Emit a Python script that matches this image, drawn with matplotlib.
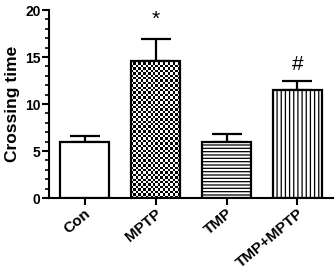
import numpy as np
import matplotlib
matplotlib.use("Agg")
import matplotlib.pyplot as plt

# Data
groups = ["Con", "MPTP", "TMP", "TMP+MPTP"]
means = [5.95, 14.6, 6.0, 11.45]
errors = [0.65, 2.3, 0.85, 1.05]
marks = ["", "*", "", "#"]
mark_y = [None, 19.0, None, 14.2]

plt.rcParams['font.family'] = ['Liberation Sans', 'DejaVu Sans']
plt.rcParams['font.weight'] = 'bold'
plt.rcParams['hatch.linewidth'] = 0.9

fig = plt.figure(figsize=(3.36, 2.71), dpi=100)
ax = fig.add_axes([0.146, 0.269, 0.845, 0.694])

x = np.arange(len(groups))
width = 0.68
hatches = [None, None, '-----', '||||']
faces = ['white', 'none', 'white', 'white']
bars = ax.bar(x, means, width=width, color=faces, edgecolor='black',
              linewidth=1.6, zorder=2)
for b, h in zip(bars, hatches):
    if h:
        b.set_hatch(h)

ax.errorbar(x, means, yerr=[np.zeros(len(errors)), errors], fmt='none',
            ecolor='black', elinewidth=1.6, capsize=11, capthick=1.6, zorder=1)

ax.set_xlim(-0.5, 3.5)
ax.set_ylim(0, 20)

# checkerboard fill for MPTP bar
fig.canvas.draw()
b = bars[1]
bx0, bx1 = b.get_x(), b.get_x() + b.get_width()
bh = b.get_height()
p0 = ax.transData.transform((bx0, 0))
p1 = ax.transData.transform((bx1, bh))
sq = 2.4
nx = int(round((p1[0] - p0[0]) / sq))
ny = int(round((p1[1] - p0[1]) / sq))
checker = (np.add.outer(np.arange(ny), np.arange(nx)) % 2).astype(float)
im = ax.imshow(checker, cmap='gray', extent=(bx0, bx1, 0, bh), aspect='auto',
               interpolation='nearest', zorder=1.5, vmin=0, vmax=1)
im.set_clip_path(b)
ax.set_xlim(-0.5, 3.5)
ax.set_ylim(0, 20)

for xi, m, my in zip(x, marks, mark_y):
    if m:
        ax.text(xi, my, m, ha='center', va='center', fontsize=15,
                fontweight='normal')

ax.spines['top'].set_visible(False)
ax.spines['right'].set_visible(False)
ax.spines['left'].set_linewidth(1.5)
ax.spines['bottom'].set_linewidth(1.5)

ax.set_yticks([0, 5, 10, 15, 20])
ax.set_yticks(np.arange(0, 21, 1), minor=True)
ax.tick_params(axis='y', which='major', length=5, width=1.5, labelsize=10, pad=1)
ax.tick_params(axis='y', which='minor', length=3, width=1.2)
ax.tick_params(axis='x', length=5, width=1.5, labelsize=11, pad=1)
ax.set_xticks(x)
ax.set_xticklabels(groups, rotation=40, ha='right', rotation_mode='anchor',
                   fontweight='bold')
for lab in ax.get_yticklabels():
    lab.set_fontweight('bold')

ax.set_ylabel('Crossing time', fontsize=12.5, fontweight='bold', labelpad=4)

fig.savefig('out.png', dpi=100)
